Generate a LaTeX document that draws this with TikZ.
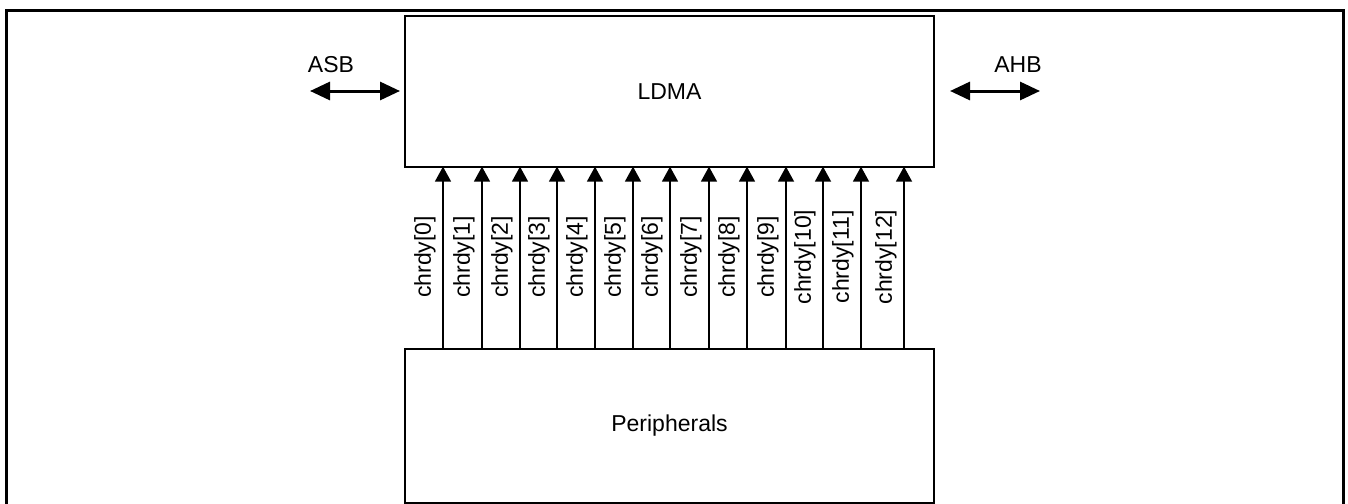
\documentclass[tikz,border=0pt]{standalone}
\usepackage{fontspec}
\setmainfont{Liberation Sans}
\usetikzlibrary{arrows.meta}
\begin{document}
\begin{tikzpicture}[x=1pt,y=-1pt,
  every node/.style={font=\fontsize{23}{27}\selectfont, inner sep=0pt, outer sep=0pt},
  blockbox/.style={draw, line width=2pt, minimum width=529pt},
  busarrow/.style={line width=3pt, {Triangle[length=20pt,width=18pt]}-{Triangle[length=20pt,width=18pt]}},
  sigarrow/.style={line width=1.6pt, -{Triangle[length=15pt,width=16pt]}},
  siglabel/.style={rotate=90, anchor=center}]
\useasboundingbox (0,0) rectangle (1348,503);
\draw[line width=3pt] (6,515) -- (6,11) -- (1343,11) -- (1343,515);
\node[blockbox, minimum height=150.7pt] (ldma) at (669.5,91.3) {LDMA};
\node[blockbox, minimum height=154pt] (per) at (669.5,426) {Peripherals};
% buses
\coordinate (asbL) at (310,91);
\coordinate (asbR) at (400,91);
\draw[busarrow] (asbL) -- (asbR);
\node (asb) at (331,64.7) {ASB};
\coordinate (ahbL) at (950,91);
\coordinate (ahbR) at (1040,91);
\draw[busarrow] (ahbL) -- (ahbR);
\node (ahb) at (1018,64.7) {AHB};
% channel ready signals
\foreach \xx [count=\i from 0] in {443,482,520,557,595,633,670,709,747,786,823,861,904} {
  \coordinate (b\i) at (\xx,349);
  \draw[sigarrow] (b\i) -- (b\i |- ldma.south);
  \node[siglabel] (l\i) at (\xx-18,257) {chrdy[\i]};
}
\end{tikzpicture}
\end{document}
